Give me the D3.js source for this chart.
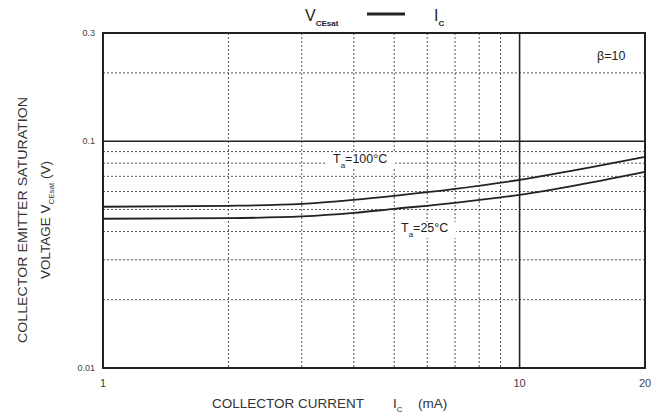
<!DOCTYPE html>
<html>
<head>
<meta charset="utf-8">
<script src="https://cdn.jsdelivr.net/npm/d3@7.9.0/dist/d3.min.js"></script>
<style>
  body { margin: 0; background: #fff; }
  svg { display: block; font-family: "Liberation Sans", Arial, sans-serif; }
</style>
</head>
<body>
<svg id="chart" width="667" height="416"></svg>
<script>
// collector current (mA) sample points
const current = [1, 2, 3, 4, 5, 7, 10, 15, 20];
const vce100 = [0.0514, 0.0519, 0.0529, 0.0551, 0.0574, 0.0616, 0.0675, 0.077, 0.0853];
const vce25 = [0.0455, 0.0458, 0.0466, 0.0483, 0.0503, 0.0535, 0.058, 0.066, 0.0733];

const xGridDashed = [2, 3, 4, 5, 6, 7, 8, 9];
const xGridSolid = [10];
const yGridDashed = [0.02, 0.03, 0.04, 0.05, 0.06, 0.07, 0.08, 0.09, 0.2];
const yGridSolid = [0.1];
const xTickLabels = [1, 10, 20];
const yTickLabels = [0.3, 0.1, 0.01];

const svg = d3.select('#chart');

const x = d3.scaleLog().domain([1, 20]).range([103, 645]);
const y = d3.scaleLog().domain([0.01, 0.3]).range([368, 33]);

const ink = '#222';

// dashed grid
svg.append('g')
    .selectAll('line')
    .data(xGridDashed)
    .join('line')
    .attr('x1', (d) => x(d)).attr('x2', (d) => x(d))
    .attr('y1', y(0.3)).attr('y2', y(0.01))
    .attr('stroke', '#555')
    .attr('stroke-width', 1)
    .attr('stroke-dasharray', '2,2');

svg.append('g')
    .selectAll('line')
    .data(yGridDashed)
    .join('line')
    .attr('x1', x(1)).attr('x2', x(20))
    .attr('y1', (d) => y(d)).attr('y2', (d) => y(d))
    .attr('stroke', '#555')
    .attr('stroke-width', 1)
    .attr('stroke-dasharray', '2,2');

// solid decade lines
svg.append('g')
    .selectAll('line')
    .data(xGridSolid)
    .join('line')
    .attr('x1', (d) => x(d)).attr('x2', (d) => x(d))
    .attr('y1', y(0.3)).attr('y2', y(0.01))
    .attr('stroke', ink)
    .attr('stroke-width', 1.6);

svg.append('g')
    .selectAll('line')
    .data(yGridSolid)
    .join('line')
    .attr('x1', x(1)).attr('x2', x(20))
    .attr('y1', (d) => y(d)).attr('y2', (d) => y(d))
    .attr('stroke', ink)
    .attr('stroke-width', 1.6);

// frame
svg.append('rect')
    .attr('x', x(1)).attr('y', y(0.3))
    .attr('width', x(20) - x(1))
    .attr('height', y(0.01) - y(0.3))
    .attr('fill', 'none')
    .attr('stroke', ink)
    .attr('stroke-width', 2);

// curves
const line = d3.line()
    .x((d) => x(d[0]))
    .y((d) => y(d[1]))
    .curve(d3.curveMonotoneX);

[vce100, vce25].forEach((series) => {
    svg.append('path')
        .attr('d', line(current.map((c, i) => [c, series[i]])))
        .attr('fill', 'none')
        .attr('stroke', ink)
        .attr('stroke-width', 1.8);
});

// tick labels
svg.append('g')
    .selectAll('text')
    .data(xTickLabels)
    .join('text')
    .attr('x', (d) => x(d))
    .attr('y', 387)
    .attr('text-anchor', 'middle')
    .attr('font-size', 11)
    .attr('fill', '#444')
    .text((d) => d);

svg.append('g')
    .selectAll('text')
    .data(yTickLabels)
    .join('text')
    .attr('x', 95)
    .attr('y', (d) => y(d) + 3)
    .attr('text-anchor', 'end')
    .attr('font-size', 9)
    .attr('fill', '#444')
    .text((d) => d);

// curve labels, with a white patch over the grid behind them
function tempLabel(px, py, t) {
    const bg = svg.append('rect').attr('fill', '#fff');
    const g = svg.append('text')
        .attr('x', px).attr('y', py)
        .attr('font-size', 12.5)
        .attr('fill', ink);
    g.append('tspan').text('T');
    g.append('tspan').attr('font-size', 8).attr('dy', 5).text('a');
    g.append('tspan').attr('dy', -5).text('=' + t + '°C');
    const b = g.node().getBBox();
    bg.attr('x', b.x - 6).attr('y', b.y + 1)
        .attr('width', b.width + 14).attr('height', b.height - 2);
}
tempLabel(333, 163, '100');
tempLabel(401, 232, '25');

svg.append('text')
    .attr('x', 597).attr('y', 60)
    .attr('font-size', 12.5)
    .attr('fill', ink)
    .text('β=10');

// title
const title = svg.append('text')
    .attr('x', 305).attr('y', 21)
    .attr('font-size', 16)
    .attr('fill', ink);
title.append('tspan').text('V');
title.append('tspan').attr('font-size', 8).attr('font-weight', 'bold').attr('dy', 5).text('CEsat');
svg.append('line')
    .attr('x1', 367).attr('x2', 405)
    .attr('y1', 14).attr('y2', 14)
    .attr('stroke', ink)
    .attr('stroke-width', 3);
const title2 = svg.append('text')
    .attr('x', 434).attr('y', 21)
    .attr('font-size', 16)
    .attr('fill', ink);
title2.append('tspan').text('I');
title2.append('tspan').attr('font-size', 8).attr('font-weight', 'bold').attr('dy', 5).text('C');

// x axis title
const xt = svg.append('text')
    .attr('x', 212).attr('y', 408)
    .attr('font-size', 13.5)
    .attr('fill', '#333');
xt.append('tspan').text('COLLECTOR CURRENT');
xt.append('tspan').attr('x', 393).text('I');
xt.append('tspan').attr('font-size', 8).attr('dy', 4).text('C');
xt.append('tspan').attr('x', 418).attr('dy', -4).text('(mA)');

// y axis title
svg.append('text')
    .attr('transform', 'translate(27,220) rotate(-90)')
    .attr('text-anchor', 'middle')
    .attr('font-size', 13.5)
    .attr('textLength', 246)
    .attr('lengthAdjust', 'spacingAndGlyphs')
    .attr('fill', '#333')
    .text('COLLECTOR EMITTER SATURATION');

const yt = svg.append('text')
    .attr('transform', 'translate(50,220) rotate(-90)')
    .attr('text-anchor', 'middle')
    .attr('font-size', 13.5)
    .attr('fill', '#333');
yt.append('tspan').text('VOLTAGE  V');
yt.append('tspan').attr('font-size', 8).attr('dy', 4).text('CEsat');
yt.append('tspan').attr('dy', -4).text('  (V)');
</script>
</body>
</html>
